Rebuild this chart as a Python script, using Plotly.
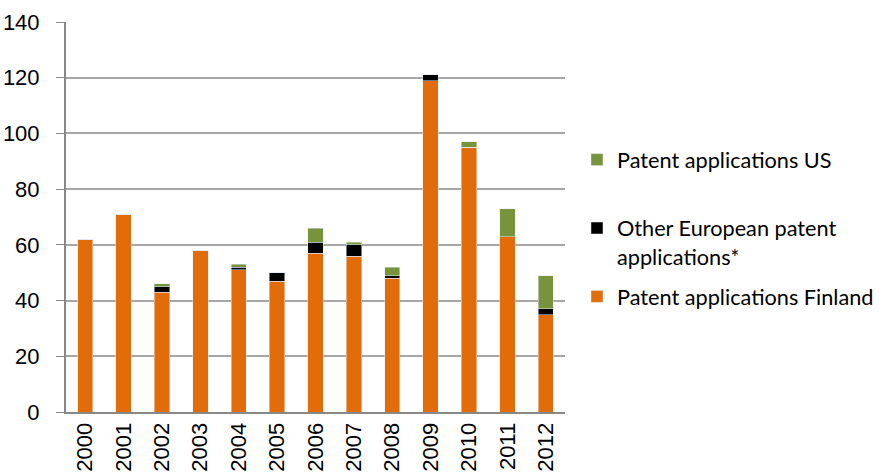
import plotly.graph_objects as go

years = [str(y) for y in range(2000, 2013)]
finland = [62, 71, 43, 58, 51, 47, 57, 56, 48, 119, 95, 63, 35]
other_eu = [0, 0, 2, 0, 1, 3, 4, 4, 1, 2, 0, 0, 2]
us = [0, 0, 1, 0, 1, 0, 5, 1, 3, 0, 2, 10, 12]

tick_font = dict(family="'Liberation Sans', Arial, sans-serif", size=22, color="#000000")
legend_font = dict(family="Lato, 'Open Sans', sans-serif", size=21.7, color="#000000")

fig = go.Figure()
fig.add_trace(go.Bar(x=years, y=finland, name="Patent applications Finland",
                     marker=dict(color="#E36C0A"), legendgroup="fi", legendrank=3))
fig.add_trace(go.Bar(x=years, y=other_eu, name="Other European patent<br>applications*",
                     marker=dict(color="#000000"), legendgroup="eu", legendrank=2))
# blank second line leaves the wider gap under the US entry
fig.add_trace(go.Bar(x=years, y=us, name="Patent applications US<br> ",
                     marker=dict(color="#77933C"), legendgroup="us", legendrank=1))

fig.update_layout(
    barmode="stack",
    bargap=0.6,
    width=883, height=475,
    margin=dict(l=66, r=318, t=22, b=63, autoexpand=False),
    plot_bgcolor="white", paper_bgcolor="white",
    font=tick_font,
    showlegend=True,
    legend=dict(x=1.024, y=0.70, xanchor="left", yanchor="top",
                traceorder="grouped", tracegroupgap=9, valign="top",
                font=legend_font, itemwidth=30),
)
fig.update_xaxes(type="category", tickangle=-90, showline=True, linecolor="#888888",
                 linewidth=2, ticks="", tickfont=tick_font, automargin=False)
fig.update_yaxes(range=[0, 140], dtick=20, showgrid=True, gridcolor="#a6a6a6", gridwidth=1.5,
                 showline=True, linecolor="#888888", linewidth=2, ticks="outside",
                 ticklen=8, tickcolor="#888888", tickfont=tick_font, zeroline=False,
                 automargin=False, ticklabelstandoff=12)

# drop the default 8px body margin so the figure fills the window
fig.write_html("out.html", config={"displayModeBar": False},
               post_script="document.body.style.margin='0';")
